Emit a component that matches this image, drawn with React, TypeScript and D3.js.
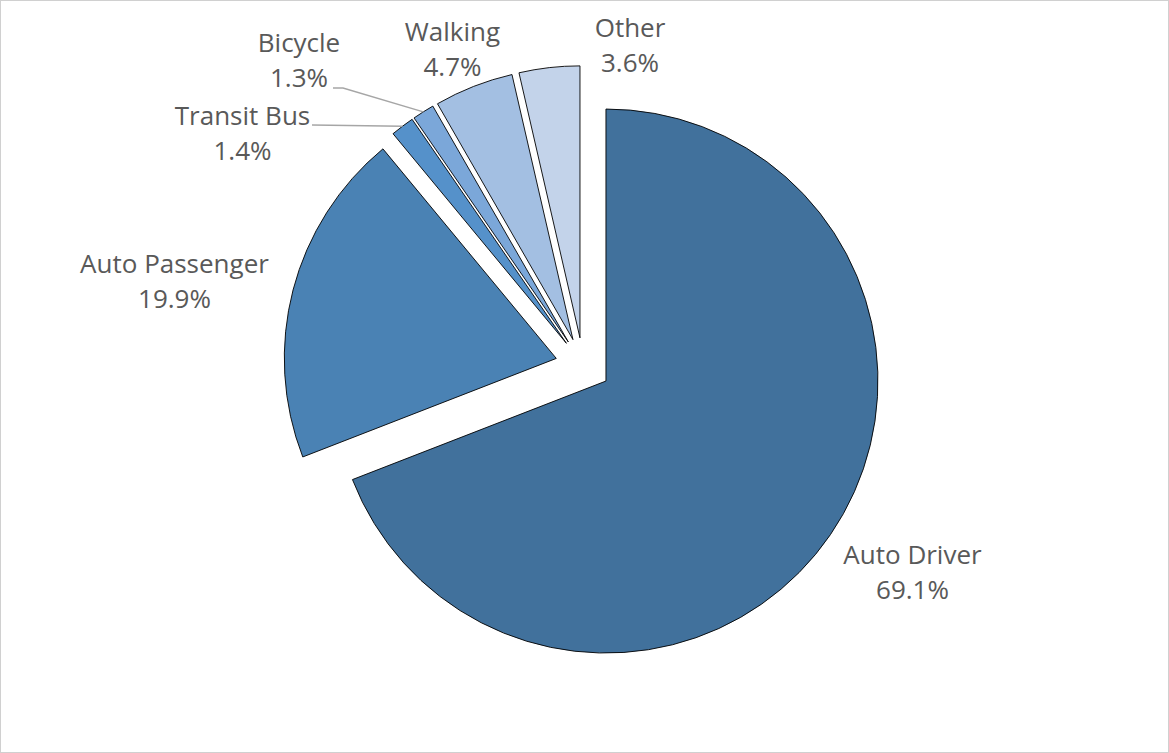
import React from 'react';
import * as d3 from 'd3';

const categories = ['Auto Driver', 'Auto Passenger', 'Transit Bus', 'Bicycle', 'Walking', 'Other'];
const values = [69.1, 19.9, 1.4, 1.3, 4.7, 3.6];
const percentLabels = ['69.1%', '19.9%', '1.4%', '1.3%', '4.7%', '3.6%'];
const colors = ['#41719C', '#4A82B4', '#5591CA', '#7BA7D9', '#A3BFE2', '#C3D3EA'];

const W = 1169;
const H = 753;
const CX = 583.1;
const CY = 365.4;
const R = 272;
const EXPLODE = 27.7;
const FONT_SIZE = 26;
const LINE_GAP = 35;
// label anchor: [centerX, baseline of first line]
const labelPos: [number, number][] = [
  [912.5, 564],
  [174.5, 273],
  [242.5, 125],
  [299, 52],
  [452.5, 41],
  [630, 37],
];
// leader line starting points (label side) for small slices
const leaderStarts: Record<number, [number, number][]> = {
  2: [[312, 125]],
  3: [[333, 88], [343, 88]],
};

export default function App() {
  const pie = d3.pie<number>().sort(null).startAngle(0).endAngle(2 * Math.PI).value((d) => d);
  const arcs = pie(values);
  const arc = d3.arc<d3.PieArcDatum<number>>().innerRadius(0).outerRadius(R);

  return (
    <svg
      width={W}
      height={H}
      style={{ position: 'absolute', left: 0, top: 0, background: '#fff' }}
      fontFamily="'Open Sans', 'Noto Sans', sans-serif"
    >
      <rect x={0.5} y={0.5} width={W - 1} height={H - 1} fill="#fff" stroke="#D0D0D0" strokeWidth={1} />
      {arcs.map((a, i) => {
        const mid = (a.startAngle + a.endAngle) / 2;
        const dx = Math.sin(mid) * EXPLODE;
        const dy = -Math.cos(mid) * EXPLODE;
        return (
          <path
            key={categories[i]}
            d={arc(a) || ''}
            transform={`translate(${CX + dx},${CY + dy})`}
            fill={colors[i]}
            stroke="#000"
            strokeWidth={0.9}
            strokeLinejoin="round"
          />
        );
      })}
      {arcs.map((a, i) => {
        const starts = leaderStarts[i];
        if (!starts) return null;
        const mid = (a.startAngle + a.endAngle) / 2;
        const ex = CX + Math.sin(mid) * (EXPLODE + R);
        const ey = CY - Math.cos(mid) * (EXPLODE + R);
        const pts: [number, number][] = [...starts, [ex, ey]];
        const line = d3.line();
        return (
          <path key={'l' + i} d={line(pts) || ''} fill="none" stroke="#A6A6A6" strokeWidth={1.5} />
        );
      })}
      {categories.map((c, i) => (
        <text
          key={'t' + c}
          x={labelPos[i][0]}
          y={labelPos[i][1]}
          textAnchor="middle"
          fontSize={FONT_SIZE}
          fill="#595959"
        >
          <tspan x={labelPos[i][0]}>{c}</tspan>
          <tspan x={labelPos[i][0]} dy={LINE_GAP}>{percentLabels[i]}</tspan>
        </text>
      ))}
    </svg>
  );
}
